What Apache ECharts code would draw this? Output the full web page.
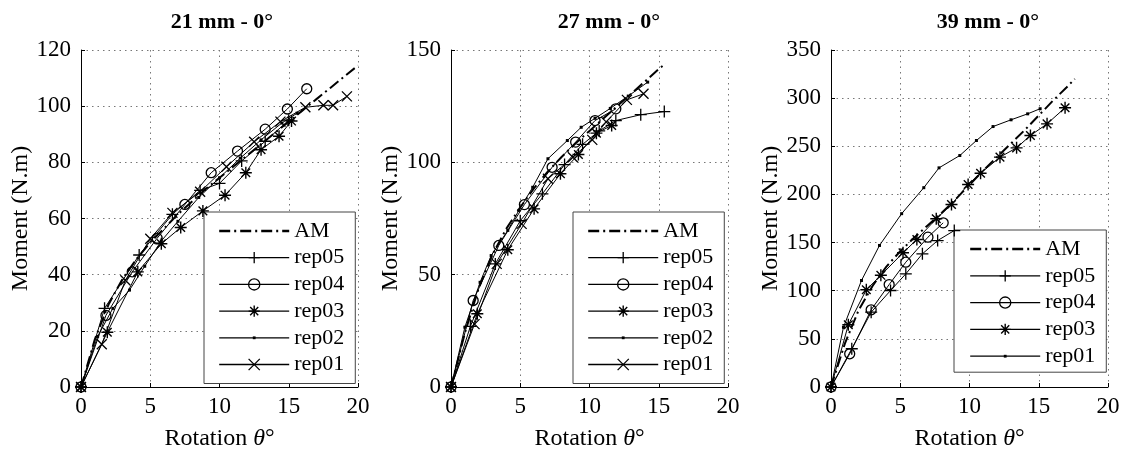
<!DOCTYPE html>
<html>
<head>
<meta charset="utf-8">
<script src="https://cdn.jsdelivr.net/npm/echarts@6/dist/echarts.min.js"></script>
<style>
  html, body { margin: 0; padding: 0; background: #fff; }
  #chart { width: 1128px; height: 457px; }
</style>
</head>
<body>
<div id="chart"></div>
<script>
// Moment vs rotation curves for three connector sizes (0° loading).
const panelTitles = ['21 mm - 0°', '27 mm - 0°', '39 mm - 0°'];
const xTickValues = [0, 5, 10, 15, 20];
const yMaxes = [120, 150, 350];
const ySteps = [20, 50, 50];

// 21 mm: [rotation (deg), moment (N.m)]
const am21 = [[0,0],[1,17],[2,29.5],[3,38.5],[4,45.5],[5,51.5],[6,56.5],[7,61.5],[8,66],[9,70.5],[10,74.5],[11,78.5],[12,82.5],[13,86.5],[14,90.5],[15,94.5],[16,98.5],[17,102.5],[18,106.5],[19,110.5],[20,114.5]];
const rep05_21 = [[0,0],[1.7,28],[4.2,47],[6.6,61.5],[8.6,70],[10.0,72.5],[11.6,80.5],[13.3,87.5],[15.0,95]];
const rep04_21 = [[0,0],[1.8,25.5],[3.7,41],[5.5,53],[7.5,65],[9.4,76.3],[11.3,84],[13.3,91.8],[14.9,99],[16.3,106.2]];
const rep03_21 = [[0,0],[1.9,19.5],[4.1,41],[5.8,51],[7.2,56.8],[8.8,62.7],[10.4,68.3],[11.9,76.3],[13.0,84.5],[14.3,89.3],[15.2,94.7]];
const rep02_21 = [[0,0],[1.2,18],[2.3,28],[3.5,34.5],[4.6,43],[5.8,52],[7.0,59],[8.5,67.5],[10.0,74.5],[11.5,81.5],[13.0,88],[14.5,94],[15.6,97.5]];
const rep01_21 = [[0,0],[1.5,15.2],[3.2,38],[5.0,52.8],[6.6,62],[8.6,69.5],[10.5,78.4],[12.5,87.3],[14.4,94.5],[16.2,99.6],[17.5,100.3],[18.2,100.3],[19.2,103.5]];

// 27 mm
const am27 = [[0,0],[1,24],[2,44],[3,59],[4,70.5],[5,80],[6,88.5],[7,96],[8,102.5],[9,108.5],[10,114],[11,119.5],[12,125],[13,130.5],[14,136],[15,141.5],[15.5,144]];
const rep05_27 = [[0,0],[1.4,27],[3.2,54.8],[5.0,74],[6.6,86],[8.2,99],[9.5,108],[10.7,114],[11.9,118.6],[13.7,121.2],[15.4,122.6]];
const rep04_27 = [[0,0],[1.6,38.5],[3.45,63],[5.3,81.2],[7.3,97.8],[9.0,109],[10.4,118.6],[11.9,123.8]];
const rep03_27 = [[0,0],[1.9,32.6],[4.1,61.1],[6.0,79.3],[7.9,94.9],[9.2,103.5],[10.5,113],[11.6,116.4]];
const rep02_27 = [[0,0],[1.0,26.6],[2.1,46.6],[2.9,58.5],[4.1,69.7],[4.9,78.6],[5.9,88.9],[7.0,101.6],[8.4,109.7],[9.4,115.6],[10.4,119.6],[11.5,124],[12.8,129.5],[14.2,135.7]];
const rep01_27 = [[0,0],[1.7,28],[3.3,54.8],[5.1,72.6],[7.0,92.7],[8.8,102.3],[10.2,110],[11.2,118],[12.7,127.8],[13.9,130.5]];

// 39 mm
const am39 = [[0,0],[1,45],[2,80],[3,105],[4,125],[5,141],[6,155],[7,168],[8,181],[9,195],[10,210],[11,225],[12,239],[13,253],[14,267],[15,282],[16,297],[17,311],[17.6,320]];
const rep05_39 = [[0,0],[1.5,39.7],[2.9,77.7],[4.3,100.2],[5.4,117.5],[6.6,138.3],[7.7,152.1],[8.9,162.5]];
const rep04_39 = [[0,0],[1.35,34.5],[2.9,80.2],[4.2,106.4],[5.4,129.6],[7.0,155.6],[8.1,170.5]];
const rep03_39 = [[0,0],[1.25,64.6],[2.55,101],[3.6,116],[5.2,139.4],[6.2,153.2],[7.6,174.7],[8.7,189.5],[9.9,210.3],[10.8,222],[12.2,238.7],[13.4,248.4],[14.4,261.2],[15.6,273.3],[16.9,290]];
const rep01_39 = [[0,0],[0.9,62],[2.2,110.6],[3.5,147],[5.1,180],[6.7,207],[7.8,227.6],[9.3,240.4],[10.5,256],[11.7,270.5],[13.0,277.5],[14.2,283.7],[15.1,289]];

// Series per panel: [label, data, marker style]
const panelSeries = [
  [['AM', am21, 'dashdot'], ['rep05', rep05_21, 'plus'], ['rep04', rep04_21, 'circle'], ['rep03', rep03_21, 'asterisk'], ['rep02', rep02_21, 'dot'], ['rep01', rep01_21, 'cross']],
  [['AM', am27, 'dashdot'], ['rep05', rep05_27, 'plus'], ['rep04', rep04_27, 'circle'], ['rep03', rep03_27, 'asterisk'], ['rep02', rep02_27, 'dot'], ['rep01', rep01_27, 'cross']],
  [['AM', am39, 'dashdot'], ['rep05', rep05_39, 'plus'], ['rep04', rep04_39, 'circle'], ['rep03', rep03_39, 'asterisk'], ['rep01', rep01_39, 'dot']]
];

// Layout
const SERIF = "'Liberation Serif', 'Times New Roman', serif";
const gridLefts = [81, 451, 831];
const gridTop = 50, gridW = 277, gridH = 337;
const titleCenters = [222, 609, 988];
const legendPos = [
  { left: 204, top: 212, gap: 4.7, padding: [8, 11, 8, 14] },
  { left: 573, top: 212, gap: 4.7, padding: [8, 11, 8, 14] },
  { left: 954, top: 230, gap: 4.8, padding: [8, 11, 5, 15] }
];

const SYM = {
  plus: 'path://M0,-5L0,5M-5,0L5,0',
  cross: 'path://M-5,-5L5,5M-5,5L5,-5',
  asterisk: 'path://M0,-5L0,5M-5,0L5,0M-3.6,-3.6L3.6,3.6M-3.6,3.6L3.6,-3.6',
  dot: 'path://M-4,-4M4,4M-1,-1L1,-1L1,1L-1,1Z'
};

function markerStyle(kind) {
  const thin = { color: '#000', width: 1 };
  switch (kind) {
    case 'dashdot':
      return { symbol: 'none', symbolSize: 0, itemStyle: { color: 'rgba(0,0,0,0)', borderWidth: 0 },
               lineStyle: { color: '#000', width: 2, type: [11, 4, 2, 4] } };
    case 'plus':
      return { symbol: SYM.plus, symbolSize: 12, itemStyle: { color: 'none', borderColor: '#000', borderWidth: 1.3 }, lineStyle: thin };
    case 'cross':
      return { symbol: SYM.cross, symbolSize: 10, itemStyle: { color: 'none', borderColor: '#000', borderWidth: 1.3 }, lineStyle: thin };
    case 'asterisk':
      return { symbol: SYM.asterisk, symbolSize: 12, itemStyle: { color: 'none', borderColor: '#000', borderWidth: 1.4 }, lineStyle: thin };
    case 'circle':
      return { symbol: 'circle', symbolSize: 10, itemStyle: { color: 'rgba(0,0,0,0)', borderColor: '#000', borderWidth: 1.3 }, lineStyle: thin };
    case 'dot':
      return { symbol: SYM.dot, symbolSize: 12, itemStyle: { color: '#000', borderWidth: 0 }, lineStyle: thin };
  }
}

const grid = [], xAxis = [], yAxis = [], series = [], legend = [], graphic = [];

panelTitles.forEach((title, pi) => {
  grid.push({ left: gridLefts[pi], top: gridTop, width: gridW, height: gridH, containLabel: false, outerBoundsMode: 'none' });

  xAxis.push({
    gridIndex: pi, type: 'value', min: xTickValues[0], max: xTickValues[xTickValues.length - 1], interval: 5,
    axisLine: { show: true, onZero: false, lineStyle: { color: '#000', width: 1 } },
    axisTick: { show: true, inside: true, length: 4, lineStyle: { color: '#000' } },
    axisLabel: { margin: 8, fontSize: 23, fontFamily: SERIF, color: '#000' },
    splitLine: { show: true, lineStyle: { color: '#777', width: 1, type: [1.5, 4] } },
    name: 'Rotation {it|θ}°', nameLocation: 'middle', nameGap: 40,
    nameTextStyle: { fontSize: 24, fontFamily: SERIF, color: '#000',
      rich: { it: { fontSize: 24, fontFamily: SERIF, fontStyle: 'italic', color: '#000' } } }
  });

  yAxis.push({
    gridIndex: pi, type: 'value', min: 0, max: yMaxes[pi], interval: ySteps[pi],
    axisLine: { show: true, onZero: false, lineStyle: { color: '#000', width: 1 } },
    axisTick: { show: true, inside: true, length: 4, lineStyle: { color: '#000' } },
    axisLabel: { margin: 10, fontSize: 23, fontFamily: SERIF, color: '#000' },
    splitLine: { show: true, lineStyle: { color: '#777', width: 1, type: [1.5, 4] } },
    name: 'Moment (N.m)', nameLocation: 'middle', nameGap: 48,
    nameTextStyle: { fontSize: 24, fontFamily: SERIF, color: '#000' }
  });

  const legendData = [];
  panelSeries[pi].forEach(([label, data, kind], si) => {
    const st = markerStyle(kind);
    const name = title.split(' - ')[0] + ' ' + label;
    series.push({
      type: 'line', name, xAxisIndex: pi, yAxisIndex: pi, data,
      symbol: st.symbol, symbolSize: st.symbolSize, showSymbol: kind !== 'dashdot',
      itemStyle: st.itemStyle, lineStyle: st.lineStyle,
      z: 10 - si, silent: true, animation: false, clip: true
    });
    legendData.push({
      name,
      itemStyle: Object.assign({}, st.itemStyle),
      lineStyle: { color: '#000', width: kind === 'dashdot' ? 2.4 : 1.3, type: st.lineStyle.type || 'solid' }
    });
  });

  const lp = legendPos[pi];
  legend.push({
    orient: 'vertical', left: lp.left, top: lp.top, data: legendData,
    itemWidth: 70, itemHeight: 14, itemGap: lp.gap, padding: lp.padding,
    backgroundColor: '#fff', borderColor: '#444', borderWidth: 1, borderRadius: 0,
    selectedMode: false, align: 'left',
    textStyle: { fontSize: 22, fontFamily: SERIF, color: '#000' },
    formatter: n => n.split(' ').pop()
  });

  graphic.push({
    type: 'text', x: titleCenters[pi], y: 22, silent: true,
    style: { text: title, align: 'center', verticalAlign: 'middle', fill: '#000',
      fontSize: 22, fontWeight: 'bold', fontFamily: SERIF }
  });
});

const chart = echarts.init(document.getElementById('chart'), null, { renderer: 'canvas' });
chart.setOption({
  animation: false,
  backgroundColor: '#fff',
  grid, xAxis, yAxis, series, legend, graphic
});
</script>
</body>
</html>
